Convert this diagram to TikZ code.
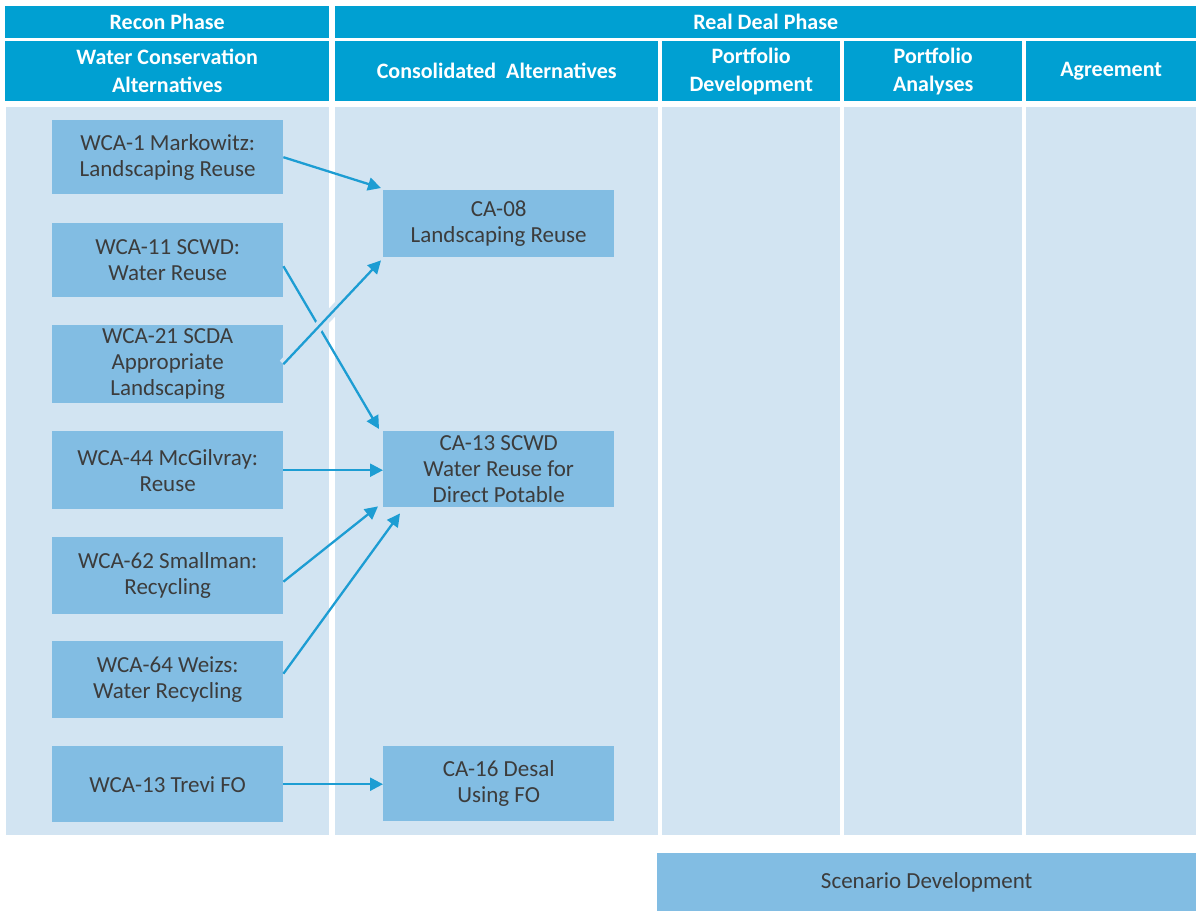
\documentclass[tikz,border=0pt]{standalone}
\usepackage{fontspec}
\setmainfont{Carlito}
\usetikzlibrary{arrows.meta,calc}
\definecolor{hdr}{HTML}{00A0D2}
\definecolor{bodybg}{HTML}{D2E4F2}
\definecolor{boxc}{HTML}{82BDE3}
\definecolor{arr}{HTML}{1D9DD3}
\definecolor{txt}{HTML}{3C3C3C}
\begin{document}
\begin{tikzpicture}[x=1pt,y=-1pt,
  cell/.style={fill=hdr, text=white, font=\fontsize{22}{28}\selectfont\bfseries, align=center, inner sep=0pt, anchor=north west},
  colbody/.style={fill=bodybg, inner sep=0pt, anchor=north west},
  item/.style={fill=boxc, text=txt, font=\fontsize{23}{26}\selectfont, align=center, inner sep=0pt, anchor=north west, minimum width=231pt},
  link/.style={draw=arr, line width=2.3pt, -{Triangle[length=13pt,width=13pt]}},
  bridge/.style={preaction={draw=bodybg, line width=10pt, -}}
]
\useasboundingbox (0,0) rectangle (1196,911);
\fill[white] (0,0) rectangle (1196,911);

% header row 1
\node[cell, minimum width=324pt, minimum height=32pt] (recon) at (5,6) {Recon Phase};
\node[cell, minimum width=861pt, minimum height=32pt] (real) at (335,6) {Real Deal Phase};
% header row 2
\node[cell, minimum width=324pt, minimum height=60pt] (h1) at (5,41) {Water Conservation\\Alternatives};
\node[cell, minimum width=323pt, minimum height=60pt] (h2) at (335,41) {Consolidated~ Alternatives};
\node[cell, minimum width=178pt, minimum height=60pt] (h3) at (662,41) {Portfolio\\Development};
\node[cell, minimum width=178pt, minimum height=60pt] (h4) at (844,41) {Portfolio\\Analyses};
\node[cell, minimum width=170pt, minimum height=60pt] (h5) at (1026,41) {Agreement};

% column bodies
\node[colbody, minimum width=323pt, minimum height=728pt] (b1) at (6,107) {};
\node[colbody, minimum width=323pt, minimum height=728pt] (b2) at (335,107) {};
\node[colbody, minimum width=178pt, minimum height=728pt] (b3) at (662,107) {};
\node[colbody, minimum width=178pt, minimum height=728pt] (b4) at (844,107) {};
\node[colbody, minimum width=170pt, minimum height=728pt] (b5) at (1026,107) {};

% left items
\node[item, minimum height=74pt] (w1) at (52,120) {WCA-1 Markowitz:\\Landscaping Reuse};
\node[item, minimum height=74pt] (w11) at (52,223) {WCA-11 SCWD:\\Water Reuse};
\node[item, minimum height=78pt] (w21) at (52,325) {WCA-21 SCDA\\Appropriate\\Landscaping};
\node[item, minimum height=78pt] (w44) at (52,431) {WCA-44 McGilvray:\\Reuse};
\node[item, minimum height=77pt] (w62) at (52,537) {WCA-62 Smallman:\\Recycling};
\node[item, minimum height=77pt] (w64) at (52,641) {WCA-64 Weizs:\\Water Recycling};
\node[item, minimum height=76pt] (w13) at (52,746) {WCA-13 Trevi FO};

% consolidated items
\node[item, minimum height=67pt] (c08) at (383,190) {CA-08\\Landscaping Reuse};
\node[item, minimum height=76pt] (c13) at (383,431) {CA-13 SCWD\\Water Reuse for\\Direct Potable};
\node[item, minimum height=75pt] (c16) at (383,746) {CA-16 Desal\\Using FO};

% scenario
\node[item, minimum width=539pt, minimum height=58pt] (scen) at (657,853) {Scenario Development};

% connectors
\draw[link] (w1.east) -- ($(c08.north west)+(-2,-2)$);
\draw[link] ($(w11.east)+(0,6)$) -- ($(c13.north west)+(-4,-2)$);
\draw[link, bridge] (w21.east) -- ($(c08.south west)+(-2,3)$);
\draw[link] (w44.east) -- (w44.east -| c13.west);
\draw[link] ($(w62.east)+(0,6)$) -- ($(c13.south west)+(-5,-1)$);
\draw[link] ($(w64.east)+(0,-6)$) -- ($(c13.south west)+(17,6)$);
\draw[link] (w13.east) -- (w13.east -| c16.west);
\end{tikzpicture}
\end{document}
